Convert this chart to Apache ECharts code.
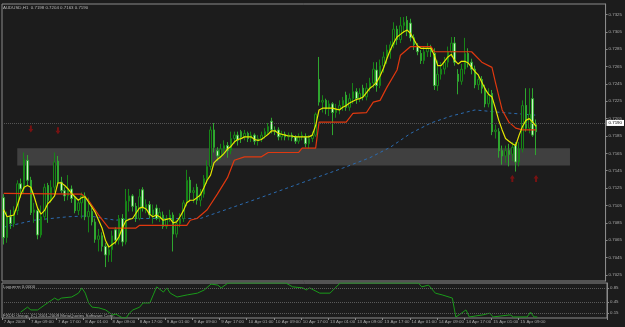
<!DOCTYPE html>
<html>
<head>
<meta charset="utf-8">
<script src="https://cdn.jsdelivr.net/npm/echarts@6/dist/echarts.min.js"></script>
<style>
  html, body { margin: 0; padding: 0; background: #1c1c1c; }
  #chart { width: 625px; height: 327px; }
</style>
</head>
<body>
<div id="chart"></div>
<script>
// AUDUSD H1, 7-15 Apr 2009
const tickLabels = ["7 Apr 2009", "7 Apr 09:00", "7 Apr 17:00", "8 Apr 01:00", "8 Apr 09:00",
  "8 Apr 17:00", "9 Apr 01:00", "9 Apr 09:00", "9 Apr 17:00", "10 Apr 01:00", "10 Apr 09:00",
  "10 Apr 17:00", "13 Apr 01:00", "13 Apr 09:00", "13 Apr 17:00", "14 Apr 01:00", "14 Apr 09:00",
  "14 Apr 17:00", "15 Apr 01:00", "15 Apr 09:00"];
const priceTicks = [0.7325, 0.7305, 0.7285, 0.7265, 0.7245, 0.7225, 0.7205, 0.7185, 0.7165,
  0.7145, 0.7125, 0.7105, 0.7085, 0.7065, 0.7045, 0.7025];
const levelTicks = [0.85, 0.45, 0.15];
const barSlots = 178; // 158 bars + empty shift on the right

// open, close, low, high
const candles = [
  [0.7114, 0.7068, 0.7060, 0.7118], [0.7068, 0.7092, 0.7062, 0.7098], [0.7092, 0.7084, 0.7078, 0.7100],
  [0.7084, 0.7099, 0.7080, 0.7104], [0.7099, 0.7130, 0.7094, 0.7134], [0.7130, 0.7124, 0.7114, 0.7136],
  [0.7124, 0.7158, 0.7118, 0.7166], [0.7157, 0.7134, 0.7128, 0.7163], [0.7134, 0.7097, 0.7094, 0.7138],
  [0.7097, 0.7100, 0.7085, 0.7108], [0.7099, 0.7071, 0.7066, 0.7102], [0.7071, 0.7092, 0.7068, 0.7105],
  [0.7092, 0.7126, 0.7088, 0.7130], [0.7128, 0.7111, 0.7085, 0.7131], [0.7111, 0.7126, 0.7108, 0.7134],
  [0.7126, 0.7155, 0.7120, 0.7166], [0.7156, 0.7132, 0.7128, 0.7162], [0.7132, 0.7122, 0.7119, 0.7138],
  [0.7122, 0.7116, 0.7110, 0.7126], [0.7116, 0.7124, 0.7111, 0.7140], [0.7124, 0.7113, 0.7108, 0.7128],
  [0.7113, 0.7099, 0.7096, 0.7116], [0.7099, 0.7108, 0.7094, 0.7112], [0.7108, 0.7116, 0.7090, 0.7120],
  [0.7116, 0.7092, 0.7088, 0.7120], [0.7092, 0.7098, 0.7074, 0.7114], [0.7098, 0.7086, 0.7082, 0.7102],
  [0.7086, 0.7066, 0.7062, 0.7090], [0.7066, 0.7070, 0.7052, 0.7078], [0.7070, 0.7058, 0.7052, 0.7074],
  [0.7058, 0.7048, 0.7034, 0.7062], [0.7048, 0.7054, 0.7040, 0.7060], [0.7054, 0.7070, 0.7040, 0.7076],
  [0.7077, 0.7065, 0.7060, 0.7080], [0.7065, 0.7090, 0.7060, 0.7094], [0.7090, 0.7063, 0.7058, 0.7095],
  [0.7063, 0.7110, 0.7060, 0.7124], [0.7110, 0.7116, 0.7098, 0.7124], [0.7116, 0.7104, 0.7098, 0.7118],
  [0.7104, 0.7090, 0.7086, 0.7108], [0.7090, 0.7115, 0.7088, 0.7124], [0.7123, 0.7102, 0.7098, 0.7126],
  [0.7102, 0.7106, 0.7096, 0.7112], [0.7106, 0.7094, 0.7090, 0.7110], [0.7094, 0.7100, 0.7084, 0.7106],
  [0.7102, 0.7090, 0.7088, 0.7106], [0.7090, 0.7097, 0.7086, 0.7102], [0.7094, 0.7081, 0.7078, 0.7098],
  [0.7081, 0.7090, 0.7078, 0.7094], [0.7090, 0.7094, 0.7086, 0.7100], [0.7094, 0.7072, 0.7052, 0.7097],
  [0.7072, 0.7084, 0.7068, 0.7088], [0.7084, 0.7090, 0.7080, 0.7096], [0.7090, 0.7108, 0.7086, 0.7111],
  [0.7108, 0.7134, 0.7104, 0.7146], [0.7134, 0.7120, 0.7110, 0.7138], [0.7120, 0.7122, 0.7108, 0.7126],
  [0.7126, 0.7111, 0.7106, 0.7130], [0.7111, 0.7118, 0.7104, 0.7124], [0.7118, 0.7136, 0.7114, 0.7140],
  [0.7136, 0.7150, 0.7130, 0.7157], [0.7150, 0.7192, 0.7146, 0.7196], [0.7192, 0.7172, 0.7166, 0.7200],
  [0.7168, 0.7162, 0.7156, 0.7172], [0.7162, 0.7170, 0.7158, 0.7176], [0.7170, 0.7174, 0.7162, 0.7180],
  [0.7174, 0.7168, 0.7160, 0.7178], [0.7168, 0.7182, 0.7164, 0.7190], [0.7182, 0.7186, 0.7176, 0.7190],
  [0.7186, 0.7180, 0.7174, 0.7190], [0.7190, 0.7184, 0.7177, 0.7192], [0.7184, 0.7188, 0.7180, 0.7192],
  [0.7188, 0.7182, 0.7178, 0.7190], [0.7182, 0.7186, 0.7178, 0.7190], [0.7186, 0.7179, 0.7175, 0.7188],
  [0.7179, 0.7182, 0.7174, 0.7186], [0.7182, 0.7186, 0.7178, 0.7190], [0.7186, 0.7190, 0.7182, 0.7194],
  [0.7190, 0.7196, 0.7186, 0.7200], [0.7202, 0.7192, 0.7188, 0.7206], [0.7192, 0.7190, 0.7186, 0.7196],
  [0.7192, 0.7184, 0.7180, 0.7195], [0.7184, 0.7187, 0.7180, 0.7191], [0.7187, 0.7184, 0.7180, 0.7190],
  [0.7184, 0.7186, 0.7180, 0.7189], [0.7186, 0.7183, 0.7179, 0.7189], [0.7184, 0.7179, 0.7176, 0.7186],
  [0.7179, 0.7184, 0.7176, 0.7188], [0.7184, 0.7186, 0.7180, 0.7190], [0.7184, 0.7176, 0.7172, 0.7188],
  [0.7176, 0.7182, 0.7170, 0.7186], [0.7182, 0.7186, 0.7178, 0.7190], [0.7186, 0.7210, 0.7184, 0.7212],
  [0.7250, 0.7224, 0.7220, 0.7276], [0.7224, 0.7226, 0.7212, 0.7232], [0.7226, 0.7216, 0.7210, 0.7228],
  [0.7216, 0.7222, 0.7208, 0.7226], [0.7222, 0.7212, 0.7186, 0.7224], [0.7212, 0.7216, 0.7206, 0.7222],
  [0.7216, 0.7220, 0.7210, 0.7226], [0.7220, 0.7226, 0.7214, 0.7230], [0.7232, 0.7218, 0.7214, 0.7236],
  [0.7218, 0.7228, 0.7214, 0.7234], [0.7228, 0.7236, 0.7222, 0.7246], [0.7236, 0.7228, 0.7222, 0.7240],
  [0.7228, 0.7234, 0.7224, 0.7240], [0.7240, 0.7230, 0.7226, 0.7244], [0.7230, 0.7240, 0.7226, 0.7246],
  [0.7240, 0.7246, 0.7236, 0.7252], [0.7246, 0.7262, 0.7240, 0.7270], [0.7261, 0.7243, 0.7236, 0.7270],
  [0.7243, 0.7266, 0.7240, 0.7273], [0.7266, 0.7276, 0.7258, 0.7282], [0.7276, 0.7284, 0.7268, 0.7290],
  [0.7284, 0.7290, 0.7274, 0.7294], [0.7290, 0.7308, 0.7286, 0.7316], [0.7308, 0.7296, 0.7290, 0.7312],
  [0.7296, 0.7312, 0.7292, 0.7322], [0.7312, 0.7316, 0.7304, 0.7322], [0.7318, 0.7306, 0.7300, 0.7323],
  [0.7315, 0.7298, 0.7294, 0.7320], [0.7298, 0.7290, 0.7284, 0.7302], [0.7288, 0.7282, 0.7278, 0.7292],
  [0.7280, 0.7272, 0.7268, 0.7284], [0.7272, 0.7282, 0.7268, 0.7288], [0.7282, 0.7286, 0.7276, 0.7292],
  [0.7286, 0.7282, 0.7276, 0.7290], [0.7280, 0.7243, 0.7238, 0.7286], [0.7243, 0.7256, 0.7237, 0.7272],
  [0.7256, 0.7262, 0.7250, 0.7270], [0.7262, 0.7270, 0.7256, 0.7276], [0.7270, 0.7282, 0.7264, 0.7288],
  [0.7282, 0.7292, 0.7276, 0.7299], [0.7292, 0.7270, 0.7266, 0.7299], [0.7256, 0.7248, 0.7233, 0.7262],
  [0.7248, 0.7262, 0.7244, 0.7268], [0.7262, 0.7280, 0.7256, 0.7298], [0.7280, 0.7270, 0.7264, 0.7286],
  [0.7270, 0.7262, 0.7256, 0.7274], [0.7262, 0.7244, 0.7240, 0.7266], [0.7244, 0.7250, 0.7238, 0.7256],
  [0.7250, 0.7240, 0.7234, 0.7254], [0.7240, 0.7222, 0.7218, 0.7244], [0.7222, 0.7232, 0.7218, 0.7240],
  [0.7234, 0.7190, 0.7186, 0.7238], [0.7190, 0.7192, 0.7182, 0.7198], [0.7190, 0.7168, 0.7160, 0.7194],
  [0.7168, 0.7162, 0.7152, 0.7174], [0.7162, 0.7168, 0.7154, 0.7174], [0.7168, 0.7164, 0.7150, 0.7176],
  [0.7164, 0.7172, 0.7156, 0.7178], [0.7174, 0.7155, 0.7144, 0.7178], [0.7155, 0.7170, 0.7150, 0.7178],
  [0.7170, 0.7220, 0.7166, 0.7226], [0.7220, 0.7194, 0.7190, 0.7240], [0.7194, 0.7210, 0.7188, 0.7240],
  [0.7228, 0.7186, 0.7184, 0.7240], [0.7198, 0.7190, 0.7163, 0.7204]
];

// yellow fast average, one value per bar
const fastMa = [
  0.7100, 0.7092, 0.7093, 0.7094, 0.7105, 0.7117, 0.7126, 0.7128, 0.7126, 0.7115,
  0.7102, 0.7095, 0.7099, 0.7107, 0.7111, 0.7116, 0.7131, 0.7131, 0.7128, 0.7124,
  0.7119, 0.7115, 0.7111, 0.7114, 0.7115, 0.7109, 0.7103, 0.7097, 0.7088, 0.7079,
  0.7065, 0.7057, 0.7060, 0.7063, 0.7069, 0.7079, 0.7087, 0.7089, 0.7090, 0.7096,
  0.7102, 0.7103, 0.7101, 0.7095, 0.7092, 0.7094, 0.7092, 0.7088, 0.7089, 0.7090,
  0.7085, 0.7086, 0.7092, 0.7099, 0.7108, 0.7111, 0.7111, 0.7114, 0.7117, 0.7125,
  0.7134, 0.7140, 0.7154, 0.7158, 0.7161, 0.7165, 0.7170, 0.7173, 0.7178, 0.7181,
  0.7182, 0.7184, 0.7184, 0.7184, 0.7181, 0.7180, 0.7181, 0.7184, 0.7187, 0.7191,
  0.7191, 0.7188, 0.7187, 0.7186, 0.7185, 0.7185, 0.7184, 0.7184, 0.7184, 0.7184,
  0.7184, 0.7186, 0.7197, 0.7215, 0.7217, 0.7217, 0.7217, 0.7217, 0.7216, 0.7215,
  0.7218, 0.7220, 0.7223, 0.7225, 0.7227, 0.7228, 0.7230, 0.7235, 0.7240, 0.7243,
  0.7247, 0.7254, 0.7263, 0.7274, 0.7284, 0.7292, 0.7299, 0.7302, 0.7305, 0.7307,
  0.7303, 0.7296, 0.7289, 0.7286, 0.7286, 0.7286, 0.7286, 0.7278, 0.7266, 0.7266,
  0.7271, 0.7276, 0.7279, 0.7272, 0.7268, 0.7271, 0.7271, 0.7269, 0.7264, 0.7259,
  0.7255, 0.7247, 0.7239, 0.7233, 0.7230, 0.7217, 0.7203, 0.7192, 0.7182, 0.7179,
  0.7176, 0.7174, 0.7186, 0.7196, 0.7203, 0.7205, 0.7201, 0.7196
];

// red trailing line, [bar, price]
const trailLine = [
  [0, 0.7119], [23, 0.7118], [25, 0.7111], [28, 0.7094], [31, 0.7079], [39, 0.7079], [40, 0.7082],
  [54, 0.7082], [55, 0.7088], [57, 0.7090], [60, 0.7100], [63, 0.7118], [66, 0.7137], [68, 0.7157],
  [71, 0.7161], [76, 0.7161], [78, 0.7166], [87, 0.7166], [88, 0.7171], [92, 0.7171], [93, 0.7201],
  [101, 0.7201], [103, 0.7211], [107, 0.7212], [109, 0.7224], [111, 0.7226], [113, 0.7241],
  [116, 0.7261], [117, 0.7278], [120, 0.7288], [126, 0.7288], [127, 0.7282], [138, 0.7282],
  [141, 0.7270], [144, 0.7264], [145, 0.7247], [147, 0.7215], [149, 0.7201], [151, 0.7194],
  [153, 0.7192], [157, 0.7192]
];

// blue slow average, [bar, price]
const slowMa = [
  [0, 0.7080], [9, 0.7088], [19, 0.7092], [25, 0.7093], [33, 0.7088], [38, 0.7090], [58, 0.7090],
  [75, 0.7113], [90, 0.7134], [100, 0.7148], [108, 0.7160], [114, 0.7172], [120, 0.7188],
  [126, 0.7200], [132, 0.7208], [139, 0.7215], [147, 0.7212], [157, 0.7209]
];

// Laguerre oscillator, [bar, value]
const laguerre = [
  [5, 0.17], [7, 0.31], [8, 0.23], [10, 0.23], [12, 0.37], [15, 0.57], [16, 0.51], [17, 0.57],
  [20, 0.60], [22, 0.71], [23, 0.86], [24, 0.71], [25, 0.43], [26, 0.31], [28, 0.29], [30, 0.23],
  [32, 0.09], [33, 0.11], [35, 0], [36, 0], [37, 0.14], [38, 0.23], [40, 0.31], [41, 0.43],
  [43, 0.43], [44, 0.66], [45, 0.89], [47, 0.74], [48, 0.86], [49, 0.71], [51, 0.60], [54, 0.66],
  [57, 0.71], [59, 0.80], [61, 0.97], [63, 0.94], [64, 0.86], [66, 1], [83, 1], [85, 0.89],
  [88, 0.86], [89, 0.80], [90, 0.86], [93, 0.71], [96, 0.71], [99, 1], [122, 1], [123, 0.89],
  [125, 0.94], [127, 0.71], [129, 0.66], [132, 0.57], [133, 0.03], [134, 0.09], [136, 0.23],
  [137, 0.03], [141, 0.09], [143, 0.14], [144, 0.03], [149, 0.09], [150, 0.03], [154, 0.03],
  [155, 0.17], [156, 0.03], [157, 0.03]
];

const sellArrows = [[8, 0.7193], [16, 0.7191]];
const buyArrows = [[150, 0.7136], [157, 0.7136]];
const zoneTop = 0.7171, zoneBottom = 0.7151, zoneFrom = 4, zoneTo = 167;
const bidPrice = 0.7190;
const yMin = 0.7018, yMax = 0.7337;

const slots = [];
for (let i = 0; i < barSlots; i++) slots.push(i);

const labelFont = { fontSize: 4.4, color: "#a8a8a8", fontFamily: "Liberation Sans" };
const isTick = (i) => i % 8 === 0 && i / 8 < tickLabels.length;

const myChart = echarts.init(document.getElementById("chart"));
const option = {
  backgroundColor: "#1c1c1c",
  animation: false,
  grid: [
    { left: 2, right: 18, top: 4, height: 277, show: true, borderColor: "#8a8a8a", borderWidth: 1 },
    { left: 2, right: 18, top: 283, height: 35, show: true, borderColor: "#8a8a8a", borderWidth: 1 }
  ],
  xAxis: [
    {
      type: "category", gridIndex: 0, data: slots,
      axisLine: { show: false }, axisTick: { show: false }, axisLabel: { show: false }, splitLine: { show: false }
    },
    {
      type: "category", gridIndex: 1, data: slots,
      axisLine: { show: false },
      axisTick: { show: true, interval: isTick, length: 2, lineStyle: { color: "#8a8a8a" } },
      axisLabel: Object.assign({
        interval: isTick, align: "left", margin: 2,
        formatter: (v, i) => tickLabels[i / 8]
      }, labelFont),
      splitLine: { show: false }
    }
  ],
  yAxis: [
    {
      type: "value", gridIndex: 0, position: "right", min: yMin, max: yMax,
      axisLine: { show: true, lineStyle: { color: "#8a8a8a" } },
      axisTick: { show: true, length: 2, customValues: priceTicks, lineStyle: { color: "#8a8a8a" } },
      axisLabel: Object.assign({ customValues: priceTicks, margin: 3, formatter: (v) => v.toFixed(4) }, labelFont),
      splitLine: { show: false }
    },
    {
      type: "value", gridIndex: 1, position: "right", min: 0, max: 1,
      axisLine: { show: true, lineStyle: { color: "#8a8a8a" } },
      axisTick: { show: true, length: 2, customValues: levelTicks, lineStyle: { color: "#8a8a8a" } },
      axisLabel: Object.assign({ customValues: levelTicks, margin: 3, formatter: (v) => v.toFixed(2) }, labelFont),
      splitLine: { show: false }
    }
  ],
  graphic: [
    { type: "text", left: 3, top: 6, style: { text: "AUDUSD,H1  0.7198 0.7204 0.7163 0.7190", fill: "#b8b8b8", font: "4.4px Liberation Sans" } },
    { type: "text", left: 3, top: 285, style: { text: "Laguerre 0.0000", fill: "#b8b8b8", font: "4.4px Liberation Sans" } },
    { type: "text", left: 3, top: 314, style: { text: "FXDD Group, (C) 2001-2009 MetaQuotes Software Corp.", fill: "#b8b8b8", font: "4.4px Liberation Sans" } }
  ],
  series: [
    {
      name: "AUDUSD", type: "candlestick", xAxisIndex: 0, yAxisIndex: 0,
      data: candles, barWidth: 2,
      itemStyle: { color: "#1c1c1c", color0: "#cdf2c6", borderColor: "#178417", borderColor0: "#2fa62f", borderWidth: 1 },
      markArea: {
        silent: true,
        itemStyle: { color: "rgba(120,120,120,0.4)" },
        data: [[{ xAxis: zoneFrom, yAxis: zoneTop }, { xAxis: zoneTo, yAxis: zoneBottom }]]
      },
      markLine: {
        silent: true, symbol: "none",
        lineStyle: { type: "dotted", color: "#555555", width: 1 },
        label: {
          position: "end", distance: 1, formatter: bidPrice.toFixed(4),
          backgroundColor: "#ffffff", color: "#000000", fontSize: 4.4, padding: [1, 2]
        },
        data: [{ yAxis: bidPrice }]
      },
      z: 3
    },
    {
      name: "slow", type: "line", xAxisIndex: 0, yAxisIndex: 0, data: slowMa,
      showSymbol: false, lineStyle: { color: "#2b6bb0", width: 1, type: [3, 3] }, z: 2
    },
    {
      name: "trail", type: "line", xAxisIndex: 0, yAxisIndex: 0, data: trailLine,
      showSymbol: false, lineStyle: { color: "#e0380f", width: 1.2 }, z: 4
    },
    {
      name: "fast", type: "line", xAxisIndex: 0, yAxisIndex: 0, data: fastMa,
      showSymbol: false, lineStyle: { color: "#e6e600", width: 1.2 }, z: 5
    },
    {
      name: "sell", type: "scatter", xAxisIndex: 0, yAxisIndex: 0, data: sellArrows,
      symbol: "path://M3,0 L7,0 L7,6 L10,6 L5,12 L0,6 L3,6 Z", symbolSize: [5, 7],
      itemStyle: { color: "#8e1010" }, z: 6
    },
    {
      name: "buy", type: "scatter", xAxisIndex: 0, yAxisIndex: 0, data: buyArrows,
      symbol: "path://M5,0 L10,6 L7,6 L7,12 L3,12 L3,6 L0,6 Z", symbolSize: [5, 7],
      itemStyle: { color: "#8e1010" }, z: 6
    },
    {
      name: "Laguerre", type: "line", xAxisIndex: 1, yAxisIndex: 1, data: laguerre,
      showSymbol: false, lineStyle: { color: "#1a9a1a", width: 1 },
      markLine: {
        silent: true, symbol: "none", label: { show: false },
        lineStyle: { type: "dotted", color: "#5a5a5a", width: 1 },
        data: levelTicks.map((v) => ({ yAxis: v }))
      }
    }
  ]
};
myChart.setOption(option);
window.addEventListener("resize", () => myChart.resize());
</script>
</body>
</html>
